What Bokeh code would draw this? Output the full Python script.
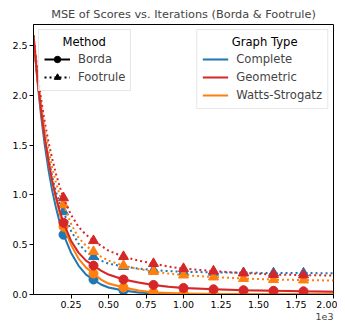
from bokeh.plotting import figure
from bokeh.models import Legend, LegendItem, FixedTicker, Range1d, Title
from bokeh.embed import file_html
from bokeh.resources import INLINE

# iterations
iters = [0, 25, 50, 75, 100, 125, 150, 175, 200, 250, 300, 350, 400, 450, 500,
         600, 700, 800, 900, 1000, 1200, 1400, 1600, 1800, 2000]
marker_iters = [200, 400, 600, 800, 1000, 1200, 1400, 1600, 1800]

graph_types = ["Complete", "Geometric", "Watts-Strogatz"]
colors = {"Complete": "#1f77b4", "Geometric": "#d62728", "Watts-Strogatz": "#ff7f0e"}

borda_complete = [2.60, 2.16, 1.80, 1.50, 1.25, 1.04, 0.87, 0.72, 0.60, 0.42, 0.29, 0.20, 0.15,
                  0.10, 0.07, 0.04, 0.02, 0.01, 0.006, 0.004, 0.002, 0.001, 0.001, 0.0, 0.0]
borda_ws = [2.58, 2.18, 1.85, 1.57, 1.33, 1.13, 0.96, 0.81, 0.68, 0.50, 0.36, 0.27, 0.21,
            0.15, 0.11, 0.07, 0.04, 0.02, 0.015, 0.01, 0.006, 0.004, 0.003, 0.002, 0.002]
borda_geometric = [2.60, 2.19, 1.85, 1.57, 1.34, 1.14, 0.98, 0.84, 0.72, 0.54, 0.42, 0.34, 0.29,
                   0.24, 0.20, 0.15, 0.12, 0.096, 0.078, 0.065, 0.052, 0.043, 0.037, 0.032, 0.028]
foot_complete = [2.56, 2.18, 1.86, 1.59, 1.37, 1.18, 1.03, 0.92, 0.83, 0.64, 0.51, 0.43, 0.38,
                 0.34, 0.31, 0.28, 0.26, 0.245, 0.235, 0.228, 0.222, 0.218, 0.216, 0.215, 0.214]
foot_ws = [2.58, 2.22, 1.92, 1.66, 1.45, 1.27, 1.12, 1.00, 0.90, 0.71, 0.57, 0.49, 0.43,
           0.38, 0.34, 0.29, 0.255, 0.23, 0.21, 0.195, 0.175, 0.16, 0.15, 0.145, 0.14]
foot_geometric = [2.60, 2.26, 1.97, 1.73, 1.53, 1.36, 1.21, 1.08, 0.97, 0.80, 0.68, 0.60, 0.54,
                  0.49, 0.44, 0.38, 0.34, 0.31, 0.28, 0.26, 0.235, 0.215, 0.20, 0.195, 0.19]

x_ticks = [250, 500, 750, 1000, 1250, 1500, 1750, 2000]
x_tick_labels = ["0.25", "0.50", "0.75", "1.00", "1.25", "1.50", "1.75", "2.00"]
x_scale_label = "1e3"
y_ticks = [0.0, 0.5, 1.0, 1.5, 2.0, 2.5]
y_tick_labels = ["0.0", "0.5", "1.0", "1.5", "2.0", "2.5"]

method_title = "Method"
graph_title = "Graph Type"

FONT = "DejaVu Sans"
NBSP = "\u00a0"

p = figure(width=337, height=323, output_backend="svg", toolbar_location=None,
           x_range=Range1d(0, 2000), y_range=Range1d(0, 2.71),
           min_border_left=33, min_border_right=4, min_border_top=24, min_border_bottom=29)
p.title.text = "MSE of Scores vs. Iterations (Borda & Footrule)"
p.title.align = "center"
p.title.text_font = FONT
p.title.text_font_size = "11.3px"
p.title.text_font_style = "normal"
p.title.standoff = 7
p.title.offset = 0

p.grid.visible = False
p.outline_line_color = "black"
p.outline_line_width = 1
p.background_fill_color = "white"

for ax in (p.xaxis[0], p.yaxis[0]):
    ax.axis_line_color = "black"
    ax.major_tick_line_color = "black"
    ax.major_tick_out = 4
    ax.major_tick_in = 0
    ax.minor_tick_line_color = None
    ax.major_label_text_font = FONT
    ax.major_label_text_font_size = "9.5px"
    ax.major_label_text_color = "black"
    ax.major_label_standoff = 2

p.xaxis.ticker = FixedTicker(ticks=x_ticks)
p.xaxis.major_label_overrides = {t: l for t, l in zip(x_ticks, x_tick_labels)}
p.yaxis.ticker = FixedTicker(ticks=y_ticks)
p.yaxis.major_label_overrides = {t: l for t, l in zip(y_ticks, y_tick_labels)}

sci = Title(text=x_scale_label, align="right", text_font=FONT, text_font_size="9.5px",
            text_font_style="normal", standoff=0, offset=0)
p.add_layout(sci, "below")

series = [
    ("Complete", borda_complete, foot_complete),
    ("Watts-Strogatz", borda_ws, foot_ws),
    ("Geometric", borda_geometric, foot_geometric),
]

idx = [iters.index(m) for m in marker_iters]

for name, b, f in series:
    c = colors[name]
    lo = [max(v - 0.012, 0) for v in b]
    hi = [v + 0.012 for v in b]
    p.varea(x=iters, y1=lo, y2=hi, fill_color=c, fill_alpha=0.2)
    p.line(iters, b, line_color=c, line_width=2)
    p.line(iters, f, line_color=c, line_width=2, line_dash="2 3")
    p.scatter([iters[i] for i in idx], [b[i] for i in idx], marker="circle", size=9,
              fill_color=c, line_color=c)
    p.scatter([iters[i] for i in idx], [f[i] for i in idx], marker="triangle", size=10,
              fill_color=c, line_color=c)

# legend-only renderers (placed outside the visible ranges)
far_x = [-500, -400]
far_y = [-5, -5]
lb = p.line(far_x, far_y, line_color="black", line_width=2)
cb = p.scatter(far_x, far_y, marker="circle", size=9, fill_color="black", line_color="black")
lf = p.line(far_x, far_y, line_color="black", line_width=2, line_dash="2 3")
tf = p.scatter(far_x, far_y, marker="triangle", size=10, fill_color="black", line_color="black")

gt = {}
for name in graph_types:
    gt[name] = p.line(far_x, far_y, line_color=colors[name], line_width=2)


def style(leg):
    leg.title_text_font = FONT
    leg.title_text_font_size = "11.6px"
    leg.title_text_font_style = "normal"
    leg.title_text_color = "black"
    leg.title_standoff = 2
    leg.label_text_font = FONT
    leg.label_text_font_size = "11.6px"
    leg.glyph_width = 26
    leg.glyph_height = 16
    leg.label_height = 16
    leg.spacing = 2
    leg.padding = 5
    leg.margin = 5
    leg.label_standoff = 8
    leg.border_line_color = "#d0d0d0"
    leg.background_fill_alpha = 0.8


# non-breaking spaces push the titles to the centre of each legend box
leg1 = Legend(items=[LegendItem(label="Borda", renderers=[lb, cb]),
                     LegendItem(label="Footrule", renderers=[lf, tf])],
              location="top_left", title=NBSP * 5 + method_title)
style(leg1)
leg2 = Legend(items=[LegendItem(label=n, renderers=[gt[n]]) for n in graph_types],
              location="top_right", title=NBSP * 8 + graph_title)
style(leg2)
p.add_layout(leg1, "center")
p.add_layout(leg2, "center")

open("out.html", "w").write(file_html(p, INLINE))
